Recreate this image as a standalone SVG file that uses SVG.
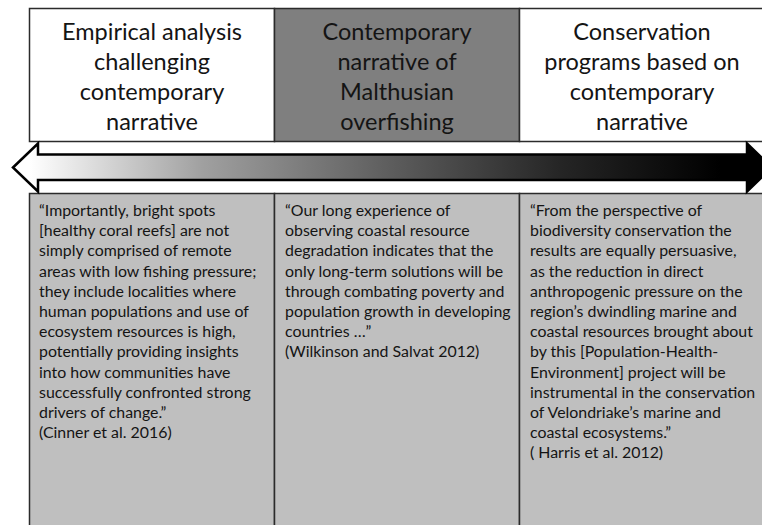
<svg xmlns="http://www.w3.org/2000/svg" width="762" height="525" viewBox="0 0 762 525">
<style>
.hbox{stroke:#2b2b2b;stroke-width:1.5}
.qbox{fill:#bfbfbf;stroke:#2b2b2b;stroke-width:1.5}
.head{font-family:Lato,"Liberation Sans",sans-serif;font-size:23.5px;fill:#141414;text-anchor:middle}
.quote{font-family:Lato,"Liberation Sans",sans-serif;font-size:15.9px;fill:#141414}
</style>
<defs>
<linearGradient id="grad" gradientUnits="userSpaceOnUse" x1="30" y1="0" x2="720" y2="0">
<stop offset="0" stop-color="#ffffff"/>
<stop offset="0.25" stop-color="#a0a0a0"/>
<stop offset="0.51" stop-color="#606060"/>
<stop offset="0.77" stop-color="#252525"/>
<stop offset="1" stop-color="#000000"/>
</linearGradient>
</defs>
<rect width="762" height="525" fill="#ffffff"/>

<g id="header-empirical">
<rect class="hbox" x="29.5" y="8.5" width="245" height="133" fill="#ffffff"/>
<text class="head" x="152" y="40">Empirical analysis</text>
<text class="head" x="152" y="70">challenging</text>
<text class="head" x="152" y="100">contemporary</text>
<text class="head" x="152" y="130">narrative</text>
</g>
<g id="header-contemporary">
<rect class="hbox" x="274.5" y="8.5" width="245" height="133" fill="#7f7f7f"/>
<text class="head" x="397" y="40">Contemporary</text>
<text class="head" x="397" y="70">narrative of</text>
<text class="head" x="397" y="100">Malthusian</text>
<text class="head" x="397" y="130">overfishing</text>
</g>
<g id="header-conservation">
<rect class="hbox" x="519.5" y="8.5" width="246" height="133" fill="#ffffff"/>
<text class="head" x="642" y="40">Conservation</text>
<text class="head" x="642" y="70">programs based on</text>
<text class="head" x="642" y="100">contemporary</text>
<text class="head" x="642" y="130">narrative</text>
</g>

<g id="quote-cinner">
<rect class="qbox" x="29.5" y="193.5" width="245" height="340"/>
<text class="quote" x="39" y="216">“Importantly, bright spots</text>
<text class="quote" x="39" y="236.2">[healthy coral reefs] are not</text>
<text class="quote" x="39" y="256.4">simply comprised of remote</text>
<text class="quote" x="39" y="276.6">areas with low fishing pressure;</text>
<text class="quote" x="39" y="296.8">they include localities where</text>
<text class="quote" x="39" y="317">human populations and use of</text>
<text class="quote" x="39" y="337.2">ecosystem resources is high,</text>
<text class="quote" x="39" y="357.4">potentially providing insights</text>
<text class="quote" x="39" y="377.6">into how communities have</text>
<text class="quote" x="39" y="397.8">successfully confronted strong</text>
<text class="quote" x="39" y="418">drivers of change.”</text>
<text class="quote" x="39" y="438.2">(Cinner et al. 2016)</text>
</g>
<g id="quote-wilkinson">
<rect class="qbox" x="274.5" y="193.5" width="245" height="340"/>
<text class="quote" x="285" y="216">“Our long experience of</text>
<text class="quote" x="285" y="236.2">observing coastal resource</text>
<text class="quote" x="285" y="256.4">degradation indicates that the</text>
<text class="quote" x="285" y="276.6">only long-term solutions will be</text>
<text class="quote" x="285" y="296.8">through combating poverty and</text>
<text class="quote" x="285" y="317">population growth in developing</text>
<text class="quote" x="285" y="337.2">countries …”</text>
<text class="quote" x="285" y="357.4">(Wilkinson and Salvat 2012)</text>
</g>
<g id="quote-harris">
<rect class="qbox" x="519.5" y="193.5" width="246" height="340"/>
<text class="quote" x="530" y="216">“From the perspective of</text>
<text class="quote" x="530" y="236.2">biodiversity conservation the</text>
<text class="quote" x="530" y="256.4">results are equally persuasive,</text>
<text class="quote" x="530" y="276.6">as the reduction in direct</text>
<text class="quote" x="530" y="296.8">anthropogenic pressure on the</text>
<text class="quote" x="530" y="317">region’s dwindling marine and</text>
<text class="quote" x="530" y="337.2">coastal resources brought about</text>
<text class="quote" x="530" y="357.4">by this [Population-Health-</text>
<text class="quote" x="530" y="377.6">Environment] project will be</text>
<text class="quote" x="530" y="397.8">instrumental in the conservation</text>
<text class="quote" x="530" y="418">of Velondriake’s marine and</text>
<text class="quote" x="530" y="438.2">coastal ecosystems.”</text>
<text class="quote" x="530" y="458.4">( Harris et al. 2012)</text>
</g>

<g id="connectors">
<path d="M13,167.5 L38,143.5 L38,154.5 L747,154.5 L747,143.5 L772,167.5 L747,191.5 L747,180 L38,180 L38,191.5 Z" fill="url(#grad)" stroke="#000000" stroke-width="2.5" stroke-linejoin="miter"/>
</g>
</svg>
